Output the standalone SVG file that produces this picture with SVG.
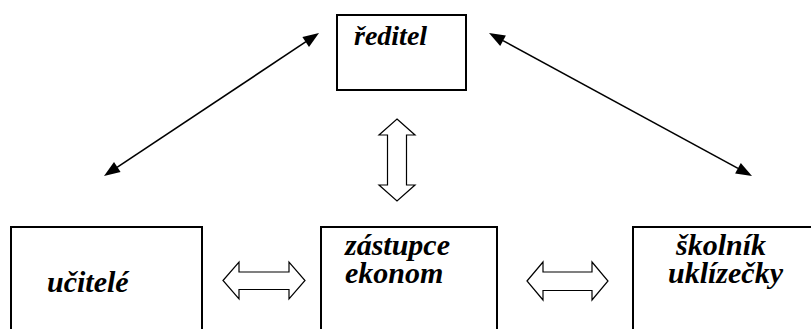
<svg xmlns="http://www.w3.org/2000/svg" width="811" height="329" viewBox="0 0 811 329">
<style>
.box{fill:#fff;stroke:#000;stroke-width:2}
.conn{stroke:#000;stroke-width:1.6;fill:none}
.head{fill:#000;stroke:none}
.blk{fill:#fff;stroke:#000;stroke-width:1.2;stroke-linejoin:miter}
</style>
<rect width="811" height="329" fill="#fff"/>
<g id="connectors">
<line class="conn" x1="117" y1="167.3" x2="306" y2="41.7"/>
<polygon class="head" points="319,33 309.0,46.9 302.4,36.9"/>
<polygon class="head" points="104,176 120.6,172.1 114.0,162.1"/>
<line class="conn" x1="503" y1="40.6" x2="738" y2="168.4"/>
<polygon class="head" points="489,33 500.2,45.9 505.9,35.4"/>
<polygon class="head" points="752,176 735.1,173.6 740.8,163.1"/>
<path class="blk" d="M397,119 L415,135 L406.5,135 L406.5,185 L415,185 L397,201 L379,185 L387.5,185 L387.5,135 L379,135 Z"/>
<path class="blk" d="M223,280.5 L239,262 L239,272 L289,272 L289,262 L305,280.5 L289,299 L289,289.5 L239,289.5 L239,299 Z"/>
<path class="blk" d="M527,281 L543,262 L543,272 L592,272 L592,262 L608,281 L592,300 L592,290.5 L543,290.5 L543,300 Z"/>
</g>
<g id="node-reditel">
<rect class="box" x="337" y="15" width="129" height="75"/>
<text x="354" y="45" style="font-family:Liberation Serif;font-weight:bold;font-style:italic;font-size:28px" fill="#000">ředitel</text>
</g>
<g id="node-ucitele">
<rect class="box" x="11" y="227" width="191" height="120"/>
<text x="47" y="292" style="font-family:Liberation Serif;font-weight:bold;font-style:italic;font-size:30px" fill="#000">učitelé</text>
</g>
<g id="node-zastupce">
<rect class="box" x="321" y="227" width="176" height="120"/>
<text x="345" y="255" style="font-family:Liberation Serif;font-weight:bold;font-style:italic;font-size:30px" fill="#000">zástupce</text>
<text x="345" y="283" style="font-family:Liberation Serif;font-weight:bold;font-style:italic;font-size:30px" fill="#000">ekonom</text>
</g>
<g id="node-skolnik">
<rect class="box" x="633" y="227" width="200" height="120"/>
<text x="676" y="255" style="font-family:Liberation Serif;font-weight:bold;font-style:italic;font-size:30px" fill="#000">školník</text>
<text x="668" y="283" style="font-family:Liberation Serif;font-weight:bold;font-style:italic;font-size:30px" fill="#000">uklízečky</text>
</g>
</svg>
